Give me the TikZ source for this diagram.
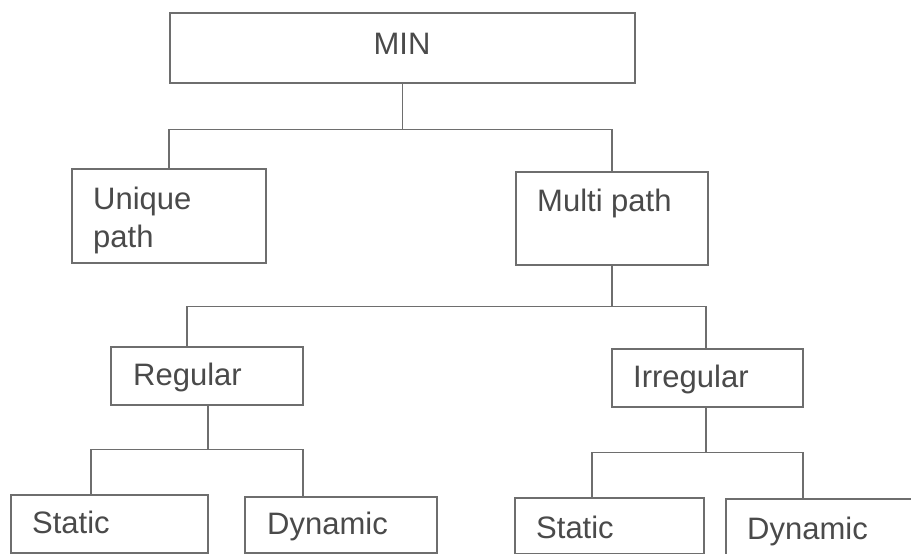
\documentclass[tikz,border=0pt]{standalone}
\usepackage{fontspec}
\setmainfont{Liberation Sans}
\begin{document}
\begin{tikzpicture}[x=1pt,y=-1pt,
  treebox/.style={draw=linegray, line width=1.3pt, rectangle, inner sep=0pt, fill=white},
  label/.style={text=textgray, inner sep=0pt, font=\fontsize{31}{36}\selectfont},
  link/.style={draw=linegray, line width=1.2pt}]
\definecolor{linegray}{HTML}{6E6E6E}
\definecolor{textgray}{HTML}{4A4A4A}
\useasboundingbox (0,0) rectangle (911,554);
\fill[white] (0,0) rectangle (911,554);

% boxes
\node[treebox, minimum width=465pt, minimum height=70pt] (min) at (402.5,48) {};
\node[treebox, minimum width=194pt, minimum height=94pt] (unique) at (169,216) {};
\node[treebox, minimum width=192pt, minimum height=93pt] (multi) at (612,218.5) {};
\node[treebox, minimum width=192pt, minimum height=58pt] (regular) at (207,376) {};
\node[treebox, minimum width=191pt, minimum height=58pt] (irregular) at (707.5,378) {};
\node[treebox, minimum width=197pt, minimum height=58pt] (staticA) at (109.5,524) {};
\node[treebox, minimum width=192pt, minimum height=56pt] (dynamicA) at (341,525) {};
\node[treebox, minimum width=189pt, minimum height=56pt] (staticB) at (609.5,526) {};
\node[treebox, minimum width=189pt, minimum height=56pt] (dynamicB) at (820.5,527) {};

% labels
\node[label, anchor=base] (tmin) at (402,54) {MIN};
\node[label, anchor=base west] (tunique) at (93,209) {Unique};
\node[label, anchor=base west] (tpath) at (93,247) {path};
\node[label, anchor=base west] (tmulti) at (537,211) {Multi path};
\node[label, anchor=base west] (treg) at (133,385) {Regular};
\node[label, anchor=base west] (tirr) at (633,387) {Irregular};
\node[label, anchor=base west] (tstatA) at (32,533) {Static};
\node[label, anchor=base west] (tdynA) at (267,534) {Dynamic};
\node[label, anchor=base west] (tstatB) at (536,538) {Static};
\node[label, anchor=base west] (tdynB) at (747,539) {Dynamic};

% connectors
\draw[link] (min.south) -- ++(0,46) coordinate (j1);
\draw[link] (unique.north) |- (j1) -| (multi.north);

\draw[link] (multi.south) -- ++(0,41) coordinate (j2);
\draw[link] ([xshift=-20pt]regular.north) |- (j2) -| ([xshift=-1.5pt]irregular.north);

\draw[link] ([xshift=1pt]regular.south) -- ++(0,44) coordinate (j3);
\draw[link] ([xshift=-18.5pt]staticA.north) |- (j3) -| ([xshift=-38pt]dynamicA.north);

\draw[link] ([xshift=-1.5pt]irregular.south) -- ++(0,45) coordinate (j4);
\draw[link] ([xshift=-17.5pt]staticB.north) |- (j4) -| ([xshift=-17.5pt]dynamicB.north);
\end{tikzpicture}
\end{document}
